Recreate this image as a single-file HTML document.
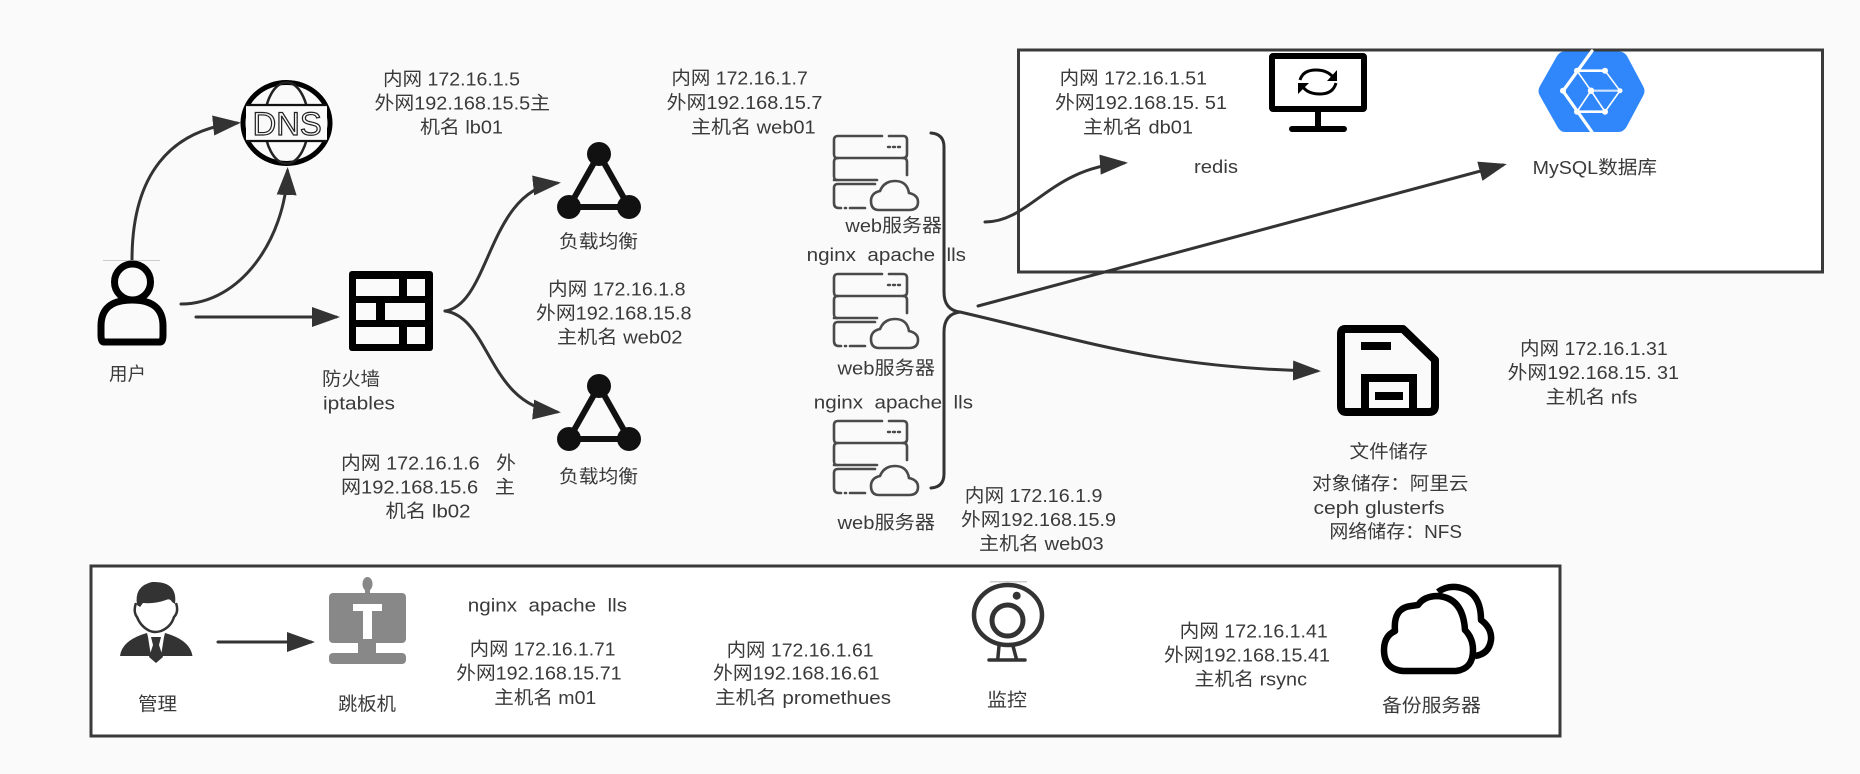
<!DOCTYPE html>
<html><head><meta charset="utf-8">
<style>
html,body{margin:0;padding:0;background:#fafafa;width:1860px;height:774px;overflow:hidden}
svg{display:block}
text{font-family:"Liberation Sans","Noto Sans CJK SC",sans-serif;font-size:18.5px;fill:#3a3a3a;white-space:pre}
.c{fill:none;stroke:#333;stroke-width:3;stroke-linecap:round}
</style></head><body>
<svg width="1860" height="774" viewBox="0 0 1860 774" xmlns="http://www.w3.org/2000/svg">
<defs>
<marker id="a" markerUnits="userSpaceOnUse" markerWidth="30" markerHeight="22" refX="24" refY="10.5" orient="auto"><path d="M0,0.5 L28,10.5 L0,20.5 Z" fill="#333"/></marker>
<g id="srv" fill="none" stroke="#4a4a4a" stroke-width="2.6" stroke-linecap="round">
<path d="M4,23 Q1,23 1,19 V5 Q1,1 5,1 H49 M56,1 H70 Q74,1 74,5 V19 Q74,23 70,23 H4"/>
<path d="M4,45 Q1,45 1,41 V27 Q1,23 5,23 M70,23 Q74,23 74,27 V40"/>
<path d="M42,49 H5 Q1,49 1,53 V68 Q1,73 6,73 H8 M12,73 H13 M17,73 H32"/>
<path d="M1,45 H44"/>
<path d="M46,75 Q38,75 38,66 Q38,58 47,56 Q51,46 62,46 Q74,46 76,58 Q85,60 85,67 Q85,75 76,75 Z" fill="#fafafa"/>
<path d="M55,12 h2 M60,12 h2 M65,12 h2" stroke-width="2.4"/>
</g>
<g id="lb">
<path d="M0,0 L-30,53 H30 Z" fill="none" stroke="#111" stroke-width="6"/>
<circle cx="0" cy="0" r="12" fill="#111"/><circle cx="-30" cy="53" r="12" fill="#111"/><circle cx="30" cy="53" r="12" fill="#111"/>
</g>
</defs>
<rect width="1860" height="774" fill="#fafafa"/>

<!-- boxes -->
<rect x="1018.5" y="50" width="804" height="222" fill="#fff" stroke="#3a3a3a" stroke-width="3"/>
<rect x="91" y="566" width="1469" height="170" fill="#fff" stroke="#3a3a3a" stroke-width="3"/>

<!-- connectors -->
<path class="c" d="M132,260 C132,175 170,130 237,123" marker-end="url(#a)"/>
<path class="c" d="M181,304 C240,304 285,240 287.5,171" marker-end="url(#a)"/>
<path class="c" d="M196,317 H336" marker-end="url(#a)"/>
<path class="c" d="M445,311 C490,305 488,190 557,183" marker-end="url(#a)"/>
<path class="c" d="M445,311 C490,317 488,405 557,412" marker-end="url(#a)"/>
<path class="c" d="M931,133 Q944,134 944,147 V292 Q944,310 960,312 Q944,314 944,332 V474 Q944,487 931,488"/>
<path class="c" d="M985,222 C1030,222 1050,168 1124,163" marker-end="url(#a)"/>
<path class="c" d="M978,306 L1503,165" marker-end="url(#a)"/>
<path class="c" d="M960,312 C1090,342 1160,368 1317,371" marker-end="url(#a)"/>
<path class="c" d="M218,642 H311" marker-end="url(#a)"/>

<!-- user -->
<path d="M103,260.5 H160" stroke="#ccc" stroke-width="1"/>
<g fill="none" stroke="#000" stroke-width="7">
<ellipse cx="132.5" cy="282" rx="18" ry="18"/>
<path d="M104,342 Q101,342 101,335 V326 Q101,300 132,300 Q163,300 163,326 V335 Q163,342 160,342 Z" fill="#fafafa" stroke-linejoin="round"/>
</g>
<!-- DNS -->
<ellipse cx="286.5" cy="123" rx="43.5" ry="40.5" fill="#fafafa" stroke="#000" stroke-width="5"/>
<ellipse cx="286.5" cy="123" rx="22" ry="40.5" fill="none" stroke="#222" stroke-width="2.5"/>
<rect x="246" y="105" width="81" height="36" fill="#fafafa"/>
<path d="M246,105 H327 M246,141 H327" stroke="#111" stroke-width="2.2"/>
<text x="252.7" y="135" textLength="69" lengthAdjust="spacingAndGlyphs" style="font-size:32px;fill:#fafafa;stroke:#222;stroke-width:1.2">DNS</text>
<!-- firewall -->
<rect x="349" y="271" width="84" height="80" rx="3" fill="#000"/>
<g fill="#fafafa">
<rect x="356" y="279" width="43" height="17"/><rect x="407" y="279" width="18" height="17"/>
<rect x="356" y="303" width="20" height="17"/><rect x="385" y="303" width="40" height="17"/>
<rect x="356" y="327" width="43" height="17"/><rect x="407" y="327" width="18" height="17"/>
</g>
<!-- load balancers -->
<use href="#lb" x="599" y="154"/>
<use href="#lb" x="599" y="386"/>
<!-- servers -->
<use href="#srv" x="833" y="135"/>
<use href="#srv" x="833" y="273"/>
<use href="#srv" x="833" y="420"/>
<!-- monitor -->
<rect x="1272" y="56" width="92" height="53" rx="1" fill="#fff" stroke="#000" stroke-width="6"/>
<path d="M1318,109 V128 M1292,129 H1344" stroke="#000" stroke-width="6" stroke-linecap="round"/>
<path d="M1300,80 Q1303,70 1316,70 Q1327,70 1333,77 M1336,83 Q1333,94 1320,94 Q1308,94 1303,87" fill="none" stroke="#000" stroke-width="3"/>
<path d="M1337,70 V81 H1327 Z M1298,94 V83 H1309 Z" fill="#000"/>
<!-- mysql hex -->
<path d="M1564,51.5 H1619 Q1624,51.5 1627,56 L1643,86 Q1646,91 1643,96 L1627,126 Q1624,132 1618,132 H1565 Q1560,132 1557,126 L1540,96 Q1537,91 1540,86 L1557,56 Q1560,51.5 1564,51.5 Z" fill="#2f87fb"/>
<g fill="none" stroke="#fff" stroke-linecap="round">
<path d="M1592,51 L1563,91 L1592,132" stroke-width="3.2"/>
<path d="M1577,70.7 H1605 M1577,111.7 H1605" stroke-width="2.6"/>
<path d="M1605,70.7 L1620,90.7 L1605,111.7 M1591,90.7 L1577,70.7 M1591,90.7 L1577,111.7 M1591,90.7 L1605,111.7" stroke-width="1.6"/>
<path d="M1591,90.7 H1620" stroke="#cfe2ff" stroke-width="2.2"/>
</g>
<g fill="#fff"><circle cx="1577" cy="70.7" r="3"/><circle cx="1605" cy="70.7" r="3"/><circle cx="1620" cy="90.7" r="2.5"/><circle cx="1605" cy="111.7" r="3"/><circle cx="1577" cy="111.7" r="3"/><circle cx="1563" cy="90.7" r="3"/><circle cx="1591" cy="90.7" r="3.2"/></g>
<!-- floppy -->
<path d="M1345,329 H1403 L1435,360 V406 Q1435,412 1429,412 H1346 Q1341,412 1341,406 V334 Q1341,329 1345,329 Z" fill="#fafafa" stroke="#000" stroke-width="8" stroke-linejoin="round"/>
<rect x="1361" y="342" width="30" height="8" fill="#000"/>
<path d="M1365,412 V378 H1413 V412" fill="none" stroke="#000" stroke-width="8"/>
<rect x="1375" y="392" width="28" height="8" fill="#000"/>
<!-- manager -->
<path d="M120,656 Q122,640 147,633 L148,637 L151,656 Z" fill="#333"/>
<path d="M192.5,656 Q190,640 165,633 L164,637 L161,656 Z" fill="#333"/>
<path d="M136,603 Q133,612 137,617 Q141,627 150,631 Q155,633 161,631 Q171,627 174,617 Q179,612 176,603" fill="#fff" stroke="#333" stroke-width="2.5"/>
<path d="M137,605 Q134,586 152,582 Q178,581 175,604 L172,602 Q170,598 166,600 Q155,604 143,603 L140,607 Z" fill="#333"/>
<path d="M151,637 H161 L159,645 L163,657 L156,663 L149,657 L153,645 Z" fill="#333"/>
<!-- jump host -->
<g fill="#888">
<ellipse cx="367.5" cy="584" rx="5" ry="7"/><rect x="365" y="588" width="5" height="7"/>
<rect x="329" y="593" width="77" height="50" rx="4"/>
<rect x="358" y="642" width="18" height="12"/>
<rect x="329" y="653" width="77" height="11" rx="4"/>
</g>
<path d="M353,604 H382 V611 H372 V639 H363 V611 H353 Z" fill="#fff"/>
<!-- webcam -->
<path d="M990,581.8 H1027" stroke="#ccc" stroke-width="1.5"/>
<ellipse cx="1008" cy="615" rx="34" ry="30" fill="#fff" stroke="#333" stroke-width="4.5"/>
<circle cx="1007.5" cy="620.5" r="15.5" fill="none" stroke="#333" stroke-width="5"/>
<circle cx="1016.7" cy="595.7" r="4" fill="#333"/>
<path d="M999,646 L997.7,660 M1013,646 L1016.7,660 M989,660 H1025" stroke="#333" stroke-width="3.5" fill="none" stroke-linecap="round"/>
<!-- backup cloud -->
<g fill="none" stroke="#000" stroke-width="6.5" stroke-linejoin="round">
<path d="M1438,592 Q1446,586 1456,587 Q1481,590 1481,620 Q1492,628 1491,640 Q1489,654 1475,656"/>
<path d="M1403,671 Q1384,669 1384,650 Q1384,636 1395,631 Q1393,608 1411,606 L1418,605 Q1424,596 1438,596 Q1463,598 1465,630 Q1473,638 1473,650 Q1473,669 1456,671 Z" fill="#fff"/>
</g>

<!-- labels -->
<text x="383" y="85.5" textLength="137" lengthAdjust="spacingAndGlyphs">内网 172.16.1.5</text>
<text x="374.5" y="109.5" textLength="175.5" lengthAdjust="spacingAndGlyphs">外网192.168.15.5主</text>
<text x="420" y="133.5" textLength="83" lengthAdjust="spacingAndGlyphs">机名 lb01</text>
<text x="109" y="380.5" textLength="37" lengthAdjust="spacingAndGlyphs">用户</text>
<text x="322" y="385.5" textLength="58" lengthAdjust="spacingAndGlyphs">防火墙</text>
<text x="323" y="409.5" textLength="72" lengthAdjust="spacingAndGlyphs">iptables</text>
<text x="341" y="469.5" textLength="175" lengthAdjust="spacingAndGlyphs">内网 172.16.1.6   外</text>
<text x="341" y="493.5" textLength="174" lengthAdjust="spacingAndGlyphs">网192.168.15.6   主</text>
<text x="385.5" y="517.5" textLength="85" lengthAdjust="spacingAndGlyphs">机名 lb02</text>
<text x="559" y="248" textLength="79" lengthAdjust="spacingAndGlyphs">负载均衡</text>
<text x="559" y="483" textLength="79" lengthAdjust="spacingAndGlyphs">负载均衡</text>
<text x="548" y="295.5" textLength="137.5" lengthAdjust="spacingAndGlyphs">内网 172.16.1.8</text>
<text x="536" y="319.5" textLength="155.5" lengthAdjust="spacingAndGlyphs">外网192.168.15.8</text>
<text x="557" y="343.5" textLength="125.5" lengthAdjust="spacingAndGlyphs">主机名 web02</text>
<text x="671.4" y="84.5" textLength="136.4" lengthAdjust="spacingAndGlyphs">内网 172.16.1.7</text>
<text x="666.7" y="109" textLength="155.8" lengthAdjust="spacingAndGlyphs">外网192.168.15.7</text>
<text x="691" y="133.5" textLength="124.7" lengthAdjust="spacingAndGlyphs">主机名 web01</text>
<text x="1059.7" y="84.5" textLength="147.3" lengthAdjust="spacingAndGlyphs">内网 172.16.1.51</text>
<text x="1055" y="109" textLength="172" lengthAdjust="spacingAndGlyphs">外网192.168.15. 51</text>
<text x="1083" y="133.5" textLength="110" lengthAdjust="spacingAndGlyphs">主机名 db01</text>
<text x="1194" y="173" textLength="44" lengthAdjust="spacingAndGlyphs">redis</text>
<text x="845.4" y="232" textLength="96.6" lengthAdjust="spacingAndGlyphs">web服务器</text>
<text x="806.6" y="261" textLength="159.4" lengthAdjust="spacingAndGlyphs">nginx  apache  lls</text>
<text x="837.5" y="374.5" textLength="97.5" lengthAdjust="spacingAndGlyphs">web服务器</text>
<text x="813.8" y="408.5" textLength="159.2" lengthAdjust="spacingAndGlyphs">nginx  apache  lls</text>
<text x="837.5" y="529" textLength="97.5" lengthAdjust="spacingAndGlyphs">web服务器</text>
<text x="964.8" y="502" textLength="137.6" lengthAdjust="spacingAndGlyphs">内网 172.16.1.9</text>
<text x="961" y="526" textLength="155" lengthAdjust="spacingAndGlyphs">外网192.168.15.9</text>
<text x="979" y="550" textLength="124.6" lengthAdjust="spacingAndGlyphs">主机名 web03</text>
<text x="1532.6" y="174" textLength="124.4" lengthAdjust="spacingAndGlyphs">MySQL数据库</text>
<text x="1520" y="355" textLength="147.8" lengthAdjust="spacingAndGlyphs">内网 172.16.1.31</text>
<text x="1507.7" y="379" textLength="171.3" lengthAdjust="spacingAndGlyphs">外网192.168.15. 31</text>
<text x="1545.7" y="403.5" textLength="91.7" lengthAdjust="spacingAndGlyphs">主机名 nfs</text>
<text x="1349.5" y="458" textLength="78.3" lengthAdjust="spacingAndGlyphs">文件储存</text>
<text x="1312" y="490" textLength="156.5" lengthAdjust="spacingAndGlyphs">对象储存：阿里云</text>
<text x="1313.5" y="514" textLength="131" lengthAdjust="spacingAndGlyphs">ceph glusterfs</text>
<text x="1329.4" y="538" textLength="132.6" lengthAdjust="spacingAndGlyphs">网络储存：NFS</text>
<text x="138" y="710.5" textLength="39" lengthAdjust="spacingAndGlyphs">管理</text>
<text x="338" y="710.5" textLength="58" lengthAdjust="spacingAndGlyphs">跳板机</text>
<text x="467.8" y="611.5" textLength="159.2" lengthAdjust="spacingAndGlyphs">nginx  apache  lls</text>
<text x="469.8" y="655.5" textLength="145.7" lengthAdjust="spacingAndGlyphs">内网 172.16.1.71</text>
<text x="456.3" y="679.5" textLength="165.3" lengthAdjust="spacingAndGlyphs">外网192.168.15.71</text>
<text x="494.3" y="704" textLength="102" lengthAdjust="spacingAndGlyphs">主机名 m01</text>
<text x="726.6" y="656.5" textLength="147" lengthAdjust="spacingAndGlyphs">内网 172.16.1.61</text>
<text x="713" y="679.5" textLength="166.6" lengthAdjust="spacingAndGlyphs">外网192.168.16.61</text>
<text x="715" y="704" textLength="176" lengthAdjust="spacingAndGlyphs">主机名 promethues</text>
<text x="987" y="706.5" textLength="40" lengthAdjust="spacingAndGlyphs">监控</text>
<text x="1179.7" y="637.5" textLength="148.1" lengthAdjust="spacingAndGlyphs">内网 172.16.1.41</text>
<text x="1164" y="661.5" textLength="166" lengthAdjust="spacingAndGlyphs">外网192.168.15.41</text>
<text x="1194.5" y="685.5" textLength="112.5" lengthAdjust="spacingAndGlyphs">主机名 rsync</text>
<text x="1382" y="712" textLength="99" lengthAdjust="spacingAndGlyphs">备份服务器</text>
</svg>
</body></html>
